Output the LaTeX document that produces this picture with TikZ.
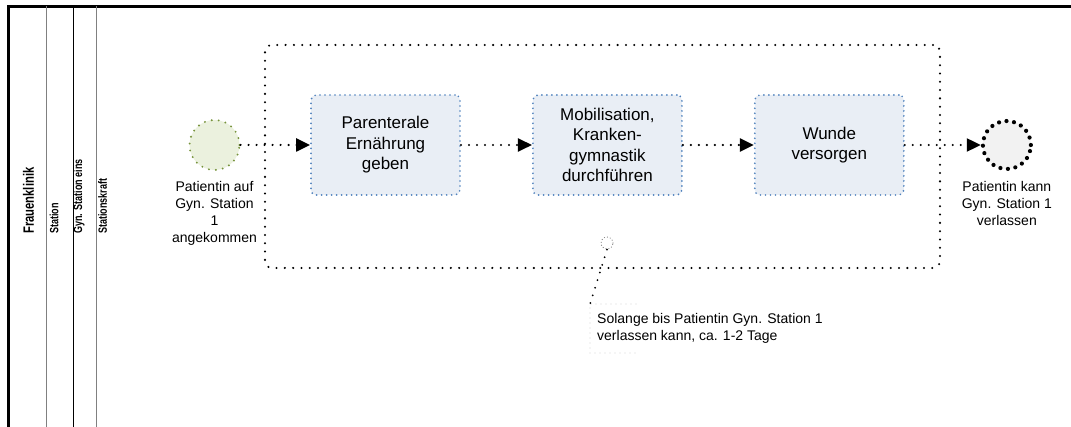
\documentclass[tikz,border=0pt]{standalone}
\usepackage{fontspec}
\setmainfont{Liberation Sans}
\newfontfamily\lanefont[FakeStretch=0.75]{Liberation Sans}
\usepackage{tikz}
\usetikzlibrary{positioning,arrows.meta}
\definecolor{taskblue}{HTML}{4F81BD}
\definecolor{taskfill}{HTML}{E9EEF5}
\definecolor{startgreen}{HTML}{77933C}
\definecolor{startfill}{HTML}{EBF1DE}
\definecolor{endfill}{HTML}{F2F2F2}
\definecolor{lanegray}{HTML}{808080}

\begin{document}
\begin{tikzpicture}[x=1pt, y=-1pt,
   task/.style={draw=taskblue, fill=taskfill, rounded corners=5pt,
                dash pattern=on 0pt off 5pt, line cap=round, line width=1.9pt,
                minimum width=149pt, minimum height=100pt, align=center,
                font=\fontsize{17}{20.5}\selectfont},
   evlabel/.style={align=center, inner sep=0pt, font=\fontsize{14}{17}\selectfont},
   flow/.style={dash pattern=on 0pt off 8pt, line cap=round, line width=2.4pt,
                -{Triangle[length=14pt, width=13pt]}},
   lanelabel/.style={rotate=90, anchor=west, inner sep=0pt,
                     font=\lanefont\bfseries\fontsize{12}{14}\selectfont},
   node distance=71pt]
  \useasboundingbox (0,0) rectangle (1071,427);

  % pool and lanes
  \draw[line width=2.5pt] (1071,6.5) -- (8.5,6.5) -- (8.5,427);
  \draw[lanegray, line width=1pt] (46,6.5) -- (46,427);
  \draw[line width=0.9pt] (73,6.5) -- (73,427);
  \draw[lanegray, line width=1pt] (96,6.5) -- (96,427);
  \node[lanelabel, font=\lanefont\bfseries\fontsize{15}{17}\selectfont] (pool) at (28.5,234) {Frauenklinik};
  \node[lanelabel] (lstation) at (54,234) {Station};
  \node[lanelabel] (lgyn) at (79,234) {Gyn. Station eins};
  \node[lanelabel] (lkraft) at (102.5,234) {Stationskraft};

  % looped subprocess
  \node[draw, rounded corners=7pt, line width=2.3pt, dash pattern=on 0pt off 8.3pt,
        line cap=round, minimum width=675pt, minimum height=223pt, inner sep=0pt]
        (sub) at (602.5,156.5) {};
  \node[draw=lanegray, circle, dash pattern=on 0pt off 3pt, line cap=round,
        line width=1.2pt, minimum size=12pt, inner sep=0pt] (loopmk) at (607,243) {};

  % events and tasks
  \node[draw=startgreen, fill=startfill, circle, minimum size=50pt, inner sep=0pt,
        line width=2.1pt, dash pattern=on 0pt off 7pt, line cap=round]
        (start) at (214.5,145) {};
  \node[task] (parent) at (385.5,145) {Parenterale\\Ernährung\\geben};
  \node[task, right=of parent] (mobil) {Mobilisation,\\Kranken-\\gymnastik\\durchführen};
  \node[task, right=of mobil] (wunde) {Wunde\\versorgen};
  \node[draw, fill=endfill, circle, minimum size=48pt, inner sep=0pt, line width=4.2pt,
        dash pattern=on 0pt off 7.6pt, line cap=round, right=76pt of wunde] (end) {};

  \node[evlabel, below=10pt of start] (startlbl)
    {Patientin auf\\Gyn. Station\\1\\angekommen};
  \node[evlabel, below=10pt of end] (endlbl)
    {Patientin kann\\Gyn. Station 1\\verlassen};

  \draw[flow] (start) -- (parent);
  \draw[flow] (parent) -- (mobil);
  \draw[flow] (mobil) -- (wunde);
  \draw[flow] (wunde) -- (end);

  % annotation
  \node[anchor=north west, align=left, inner xsep=7pt, inner ysep=9.3pt,
        font=\fontsize{14}{17}\selectfont] (note) at (590,304)
    {Solange bis Patientin Gyn. Station 1\\verlassen kann, ca. 1-2 Tage};
  \draw[lanegray, line width=0.8pt, dash pattern=on 0pt off 5pt, line cap=round]
    ([xshift=46pt]note.north west) -- (note.north west) -- (note.south west)
    -- ([xshift=46pt]note.south west);
  \draw[line width=2pt, dash pattern=on 0pt off 8pt, line cap=round]
    (loopmk.south) -- (note.north west);
\end{tikzpicture}
\end{document}
